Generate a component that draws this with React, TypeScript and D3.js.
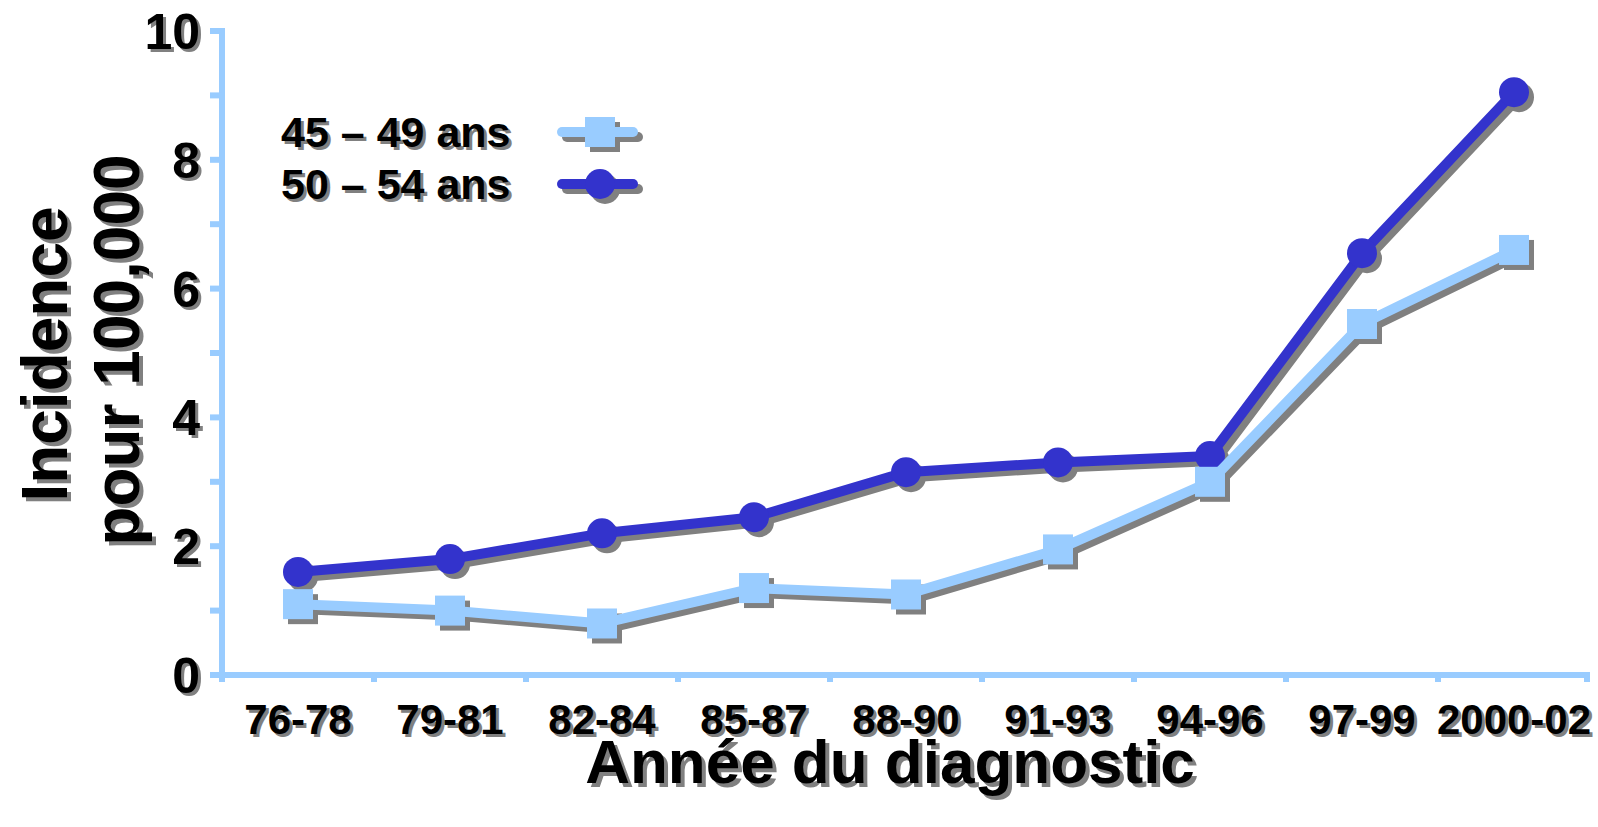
import { useRef, useEffect } from 'react';
import * as d3 from 'd3';

const categories = ["76-78", "79-81", "82-84", "85-87", "88-90", "91-93", "94-96", "97-99", "2000-02"];
const ans45_49 = [1.1, 1.0, 0.8, 1.35, 1.25, 1.95, 3.0, 5.45, 6.6];
const ans50_54 = [1.6, 1.8, 2.2, 2.45, 3.15, 3.3, 3.4, 6.55, 9.05];
const yTickLabels = [0, 2, 4, 6, 8, 10];
const seriesNames = ["45 – 49 ans", "50 – 54 ans"];

const LIGHT = "#99CCFF";
const DARK = "#3333CC";
const SHADOW = "#808080";
const FONT = "'Liberation Sans', Arial, sans-serif";

export default function App() {
  const svgRef = useRef<SVGSVGElement>(null);

  useEffect(() => {
    if (!svgRef.current) return;
    const svg = d3.select(svgRef.current);
    svg.selectAll("*").remove();

    // plot area
    const left = 222, right = 1590, top = 31, bottom = 675;

    const x = d3.scaleBand().domain(categories).range([left, right]);
    const y = d3.scaleLinear().domain([0, 10]).range([bottom, top]);

    // text with gray drop shadow
    const shadowText = (g: any, tx: number, ty: number, txt: string, size: number, anchor: string, rotate = 0, off = 3) => {
      const add = (dx: number, dy: number, fill: string) =>
        g.append("text")
          .attr("transform", `translate(${tx + dx},${ty + dy}) rotate(${rotate})`)
          .attr("text-anchor", anchor)
          .style("font-family", FONT)
          .style("font-weight", "bold")
          .style("font-size", `${size}px`)
          .style("fill", fill)
          .text(txt);
      add(off, off, SHADOW);
      add(0, 0, "#000");
    };

    // axes
    const axis = svg.append("g").attr("stroke", LIGHT).attr("stroke-width", 6);
    axis.append("line").attr("x1", left).attr("x2", left).attr("y1", top - 3).attr("y2", bottom + 3);
    axis.append("line").attr("x1", left - 3).attr("x2", right).attr("y1", bottom).attr("y2", bottom);
    d3.range(0, 11).forEach(v => {
      axis.append("line").attr("x1", left - 12).attr("x2", left).attr("y1", y(v)).attr("y2", y(v));
    });
    categories.forEach((c, i) => {
      const bx = x(c) || 0;
      if (i > 0) axis.append("line").attr("x1", bx).attr("x2", bx).attr("y1", bottom).attr("y2", bottom + 7);
    });
    axis.append("line").attr("x1", left).attr("x2", left).attr("y1", bottom).attr("y2", bottom + 7);
    axis.append("line").attr("x1", right - 3).attr("x2", right - 3).attr("y1", bottom).attr("y2", bottom + 7);

    // tick labels
    const labels = svg.append("g");
    yTickLabels.forEach(v => shadowText(labels, 200, y(v) + 18, String(v), 50, "end"));
    categories.forEach(c => shadowText(labels, (x(c) || 0) + x.bandwidth() / 2, 734, c, 42, "middle"));

    // axis titles
    shadowText(labels, 67, 354, "Incidence", 64, "middle", -90, 4);
    shadowText(labels, 139, 350, "pour 100,000", 64, "middle", -90, 4);
    shadowText(labels, 890, 783, "Année du diagnostic", 62, "middle", 0, 4);

    const cx = (c: string) => (x(c) || 0) + x.bandwidth() / 2;
    const line = d3.line<number>().x((_, i) => cx(categories[i])).y(d => y(d));

    const drawSeries = (values: number[], color: string, marker: "square" | "circle") => {
      const g = svg.append("g");
      [[5, 5, SHADOW], [0, 0, color]].forEach(([dx, dy, fill]) => {
        const layer = g.append("g").attr("transform", `translate(${dx},${dy})`);
        layer.append("path")
          .datum(values)
          .attr("fill", "none")
          .attr("stroke", fill as string)
          .attr("stroke-width", 10)
          .attr("stroke-linejoin", "round")
          .attr("d", line);
        values.forEach((v, i) => {
          if (marker === "square") {
            layer.append("rect")
              .attr("x", cx(categories[i]) - 15).attr("y", y(v) - 15)
              .attr("width", 30).attr("height", 30)
              .attr("fill", fill as string);
          } else {
            layer.append("circle")
              .attr("cx", cx(categories[i])).attr("cy", y(v))
              .attr("r", 15).attr("fill", fill as string);
          }
        });
      });
    };

    drawSeries(ans50_54, DARK, "circle");
    drawSeries(ans45_49, LIGHT, "square");

    // legend
    const legend = svg.append("g");
    const legendRows = [
      { name: seriesNames[0], color: LIGHT, marker: "square", ty: 147 },
      { name: seriesNames[1], color: DARK, marker: "circle", ty: 199 },
    ];
    legendRows.forEach(r => {
      shadowText(legend, 281, r.ty, r.name, 43, "start");
      const my = r.ty - 15;
      [[5, 5, SHADOW], [0, 0, r.color]].forEach(([dx, dy, fill]) => {
        const lg = legend.append("g").attr("transform", `translate(${dx},${dy})`);
        lg.append("line").attr("x1", 562).attr("x2", 633).attr("y1", my).attr("y2", my)
          .attr("stroke", fill as string).attr("stroke-width", 10).attr("stroke-linecap", "round");
        if (r.marker === "square") {
          lg.append("rect").attr("x", 585).attr("y", my - 15).attr("width", 30).attr("height", 30).attr("fill", fill as string);
        } else {
          lg.append("circle").attr("cx", 600).attr("cy", my).attr("r", 15).attr("fill", fill as string);
        }
      });
    });
  }, []);

  return (
    <svg ref={svgRef} width={1598} height={827}
      style={{ position: "absolute", left: 0, top: 0, background: "#fff" }} />
  );
}
